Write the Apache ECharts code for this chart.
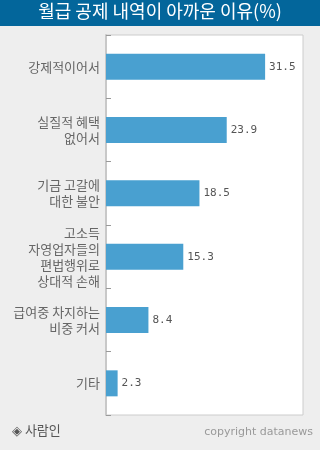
<!DOCTYPE html>
<html><head><meta charset="utf-8">
<script src="https://cdn.jsdelivr.net/npm/echarts@6/dist/echarts.min.js"></script>
<style>html,body{margin:0;padding:0;background:#eeeeee;}#c{width:320px;height:450px;}</style>
</head><body><div id="c"></div>
<script>
var titleText = '월급 공제 내역이 아까운 이유(%)';
var categories = ['강제적이어서', '실질적 혜택\n없어서', '기금 고갈에\n대한 불안', '고소득\n자영업자들의\n편법행위로\n상대적 손해', '급여중 차지하는\n비중 커서', '기타'];
var values = [31.5, 23.9, 18.5, 15.3, 8.4, 2.3];
var sourceText = '◈ 사람인';
var copyrightText = 'copyright datanews';

var chart = echarts.init(document.getElementById('c'), null, {renderer: 'canvas'});
var kr = '"Noto Sans CJK KR", sans-serif';
chart.setOption({
  backgroundColor: '#eeeeee',
  animation: false,
  graphic: [
    {type: 'rect', left: 0, top: 0, shape: {width: 320, height: 26}, style: {fill: '#03669b'}, z: 0},
    {type: 'text', left: 'center', top: 2, style: {text: titleText, fill: '#ffffff', font: '18px ' + kr}},
    {type: 'text', left: 12, top: 424, style: {text: sourceText, fill: '#555555', font: '13px ' + kr}},
    {type: 'text', right: 7, top: 427, style: {text: copyrightText, fill: '#999999', font: '11px "DejaVu Sans", sans-serif'}}
  ],
  grid: {left: 106, right: 17, top: 35, bottom: 35, show: true, backgroundColor: '#ffffff', borderColor: '#cccccc', borderWidth: 1},
  xAxis: {type: 'value', min: 0, max: 39, show: false, splitLine: {show: false}},
  yAxis: {
    type: 'category', inverse: true, data: categories,
    axisLine: {show: true, lineStyle: {color: '#c8c8c8', width: 2}},
    axisTick: {show: true, inside: true, length: 5, lineStyle: {color: '#999999'}},
    axisLabel: {color: '#666666', fontSize: 13, fontFamily: kr, lineHeight: 16, margin: 6, align: 'right'}
  },
  series: [{
    type: 'bar', data: values, barWidth: 26,
    itemStyle: {color: '#49a0d0'},
    label: {show: true, position: 'right', distance: 4, color: '#555555', fontSize: 11, fontFamily: '"DejaVu Sans Mono", monospace'}
  }]
});
</script></body></html>
